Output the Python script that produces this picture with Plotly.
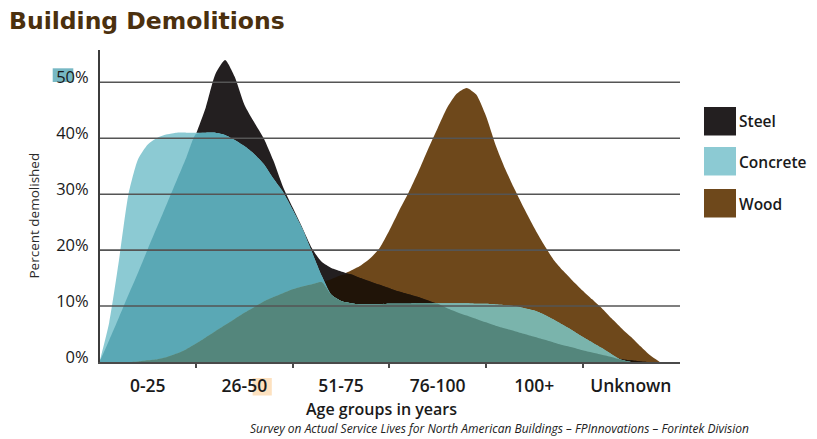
import numpy as np
import plotly.graph_objects as go

# ---------------- data ----------------
categories = ["0-25", "26-50", "51-75", "76-100", "100+", "Unknown"]
series_names = ["Steel", "Concrete", "Wood"]
y_ticks = [0, 10, 20, 30, 40, 50]

# positions along the age axis, in age-group units (0 = "0-25", 5 = "Unknown")
x_pos = [-0.5, -0.4, -0.3, -0.2, -0.1, 0.0, 0.1, 0.2, 0.3, 0.4,
         0.5, 0.6, 0.7, 0.8, 0.9, 1.0, 1.1, 1.2, 1.3, 1.4,
         1.5, 1.6, 1.7, 1.8, 1.9, 2.0, 2.1, 2.2, 2.3, 2.4,
         2.5, 2.6, 2.7, 2.8, 2.9, 3.0, 3.1, 3.2, 3.3, 3.4,
         3.5, 3.6, 3.7, 3.8, 3.9, 4.0, 4.1, 4.2, 4.3, 4.4,
         4.5, 4.6, 4.7, 4.8, 4.9, 5.0, 5.1, 5.2, 5.3]

steel = [0.0, 3.9, 7.9, 12.0, 16.0, 20.2, 24.3, 28.4, 32.5, 36.6,
         40.8, 45.5, 51.5, 54.0, 51.0, 46.0, 42.9, 40.0, 36.0, 31.3,
         27.6, 24.0, 20.3, 17.9, 16.8, 16.2, 15.7, 15.0, 14.4, 13.8,
         13.2, 12.6, 12.1, 11.6, 11.0, 10.4, 9.6, 8.9, 8.3, 7.7,
         7.1, 6.5, 6.0, 5.5, 5.0, 4.5, 4.0, 3.5, 3.0, 2.6,
         2.1, 1.7, 1.3, 0.9, 0.5, 0.3, 0.1, 0.0, 0.0]

concrete = [0.0, 7.0, 18.0, 30.0, 36.3, 38.9, 40.1, 40.7, 41.0, 41.0,
            41.0, 41.0, 41.0, 40.6, 39.7, 38.6, 37.2, 35.4, 32.8, 30.4,
            27.2, 23.8, 19.6, 15.4, 12.0, 10.9, 10.5, 10.3, 10.3, 10.3,
            10.4, 10.4, 10.4, 10.5, 10.5, 10.5, 10.5, 10.5, 10.5, 10.4,
            10.4, 10.3, 10.2, 10.0, 9.6, 9.2, 8.5, 7.6, 6.6, 5.6,
            4.5, 3.5, 2.5, 1.4, 0.4, 0.0, 0.0, 0.0, 0.0]

wood = [0.0, 0.0, 0.0, 0.0, 0.1, 0.3, 0.5, 0.9, 1.5, 2.3,
        3.3, 4.4, 5.5, 6.6, 7.7, 8.8, 9.8, 10.8, 11.6, 12.3,
        13.0, 13.5, 13.9, 14.3, 14.8, 15.5, 16.3, 17.2, 18.5, 20.4,
        23.5, 27.0, 30.3, 34.0, 38.0, 41.8, 45.5, 48.0, 49.0, 47.8,
        44.0, 38.8, 34.5, 30.8, 27.3, 24.0, 21.0, 18.3, 16.3, 14.5,
        12.8, 11.2, 9.6, 7.8, 6.1, 4.5, 2.8, 1.2, 0.0]

footnote = "Survey on Actual Service Lives for North American Buildings – FPInnovations – Forintek Division"

# ---------------- styling ----------------
C_STEEL = "#231f20"
C_CONCRETE = "#8ccad3"
C_WOOD = "#6e481b"
C_STEEL_WOOD = "#201408"
C_CONC_STEEL = "#5aa8b5"
C_CONC_WOOD = "#7ab4ac"
C_ALL = "#54867c"

s = np.array(steel)
c = np.array(concrete)
w = np.array(wood)

layers = [
    (w, C_WOOD),
    (s, C_STEEL),
    (np.minimum(s, w), C_STEEL_WOOD),
    (c, C_CONCRETE),
    (np.minimum(c, s), C_CONC_STEEL),
    (np.minimum(c, w), C_CONC_WOOD),
    (np.minimum(np.minimum(c, s), w), C_ALL),
]

fig = go.Figure()
for yy, col in layers:
    fig.add_trace(go.Scatter(
        x=x_pos, y=yy, mode="lines",
        line=dict(width=0, shape="spline", smoothing=0.6, color=col),
        fill="tozeroy", fillcolor=col,
        hoverinfo="skip", showlegend=False))

# page offset (browser body margin) and plot geometry in window pixels
OFF = 8
FIG_W, FIG_H = 817 - OFF, 439 - OFF
PLOT_L, PLOT_R, PLOT_T, PLOT_B = 100, 680, 50, 362   # window pixels
L = PLOT_L - OFF
T = PLOT_T - OFF
R = FIG_W - (PLOT_R - OFF)
B = FIG_H - (PLOT_B - OFF)
W = PLOT_R - PLOT_L
H = PLOT_B - PLOT_T

def px(xp):
    return (xp - PLOT_L) / W

def py(yp):
    return (PLOT_B - yp) / H

shapes = []
# horizontal grid lines above the areas
for v in y_ticks[1:]:
    shapes.append(dict(type="line", xref="paper", yref="y", x0=0, x1=1, y0=v, y1=v,
                       line=dict(color="#555555", width=1.6), layer="above"))

# legend swatches
legend_cols = [C_STEEL, C_CONCRETE, C_WOOD]
legend_top = [107, 147, 189]
annotations = []
for name, col, top in zip(series_names, legend_cols, legend_top):
    shapes.append(dict(type="rect", xref="paper", yref="paper",
                   x0=px(704), x1=px(736), y0=py(top + 28.5), y1=py(top),
                   fillcolor=col, line=dict(width=0), layer="above"))
    annotations.append(dict(text=name, xref="paper", yref="paper",
                            x=px(737), y=py(top + 14.5), xanchor="left", yanchor="middle",
                            showarrow=False,
                            font=dict(family="Open Sans", size=15.5, color="#1a1a1a", weight=600)))

# highlight boxes seen behind "50"
shapes.append(dict(type="rect", xref="paper", yref="paper",
                   x0=px(52.7), x1=px(73.3), y0=py(82), y1=py(68.3),
                   fillcolor="#77b8c4", line=dict(width=0), layer="below"))
shapes.append(dict(type="rect", xref="paper", yref="paper",
                   x0=px(252.6), x1=px(271.8), y0=py(395.5), y1=py(378),
                   fillcolor="#fde1bf", line=dict(width=0), layer="below"))

annotations += [
    dict(text="Building Demolitions", xref="paper", yref="paper",
         x=px(7), y=py(21), xanchor="left", yanchor="middle", showarrow=False,
         font=dict(family="DejaVu Sans", size=23.5, color="#4b300e", weight="bold")),
    dict(text="Percent demolished", xref="paper", yref="paper",
         x=px(33.5), y=py(216), xanchor="center", yanchor="middle", textangle=-90,
         showarrow=False, font=dict(family="Open Sans", size=13.5, color="#2a2a2a")),
    dict(text="Age groups in years", xref="paper", yref="paper",
         x=px(381), y=py(409), xanchor="center", yanchor="middle", showarrow=False,
         font=dict(family="Open Sans", size=16, color="#1a1a1a", weight=600)),
    dict(text="<i>" + footnote + "</i>", xref="paper", yref="paper",
         x=px(499), y=py(439), xanchor="center", yanchor="bottom", showarrow=False,
         font=dict(family="Open Sans", size=12, color="#222222")),
]

x0 = (PLOT_L - 147.8) / 96.6
x1 = (PLOT_R - 147.8) / 96.6
fig.update_layout(
    width=FIG_W, height=FIG_H,
    margin=dict(l=L, r=R, t=T, b=B, pad=0),
    paper_bgcolor="white", plot_bgcolor="white",
    showlegend=False,
    shapes=shapes, annotations=annotations,
    xaxis=dict(range=[x0, x1], tickvals=list(range(len(categories))), ticktext=categories,
               showgrid=False, zeroline=False, ticks="", ticklabelstandoff=7,
               showline=True, linecolor="#4a4a4a", linewidth=2, layer="above traces",
               tickfont=dict(family="Open Sans", size=17.5, color="#1a1a1a", weight=600),
               minor=dict(tickvals=[-0.5, 0.5, 1.5, 2.5, 3.5, 4.5], ticks="outside",
                          ticklen=4, tickcolor="#4a4a4a", tickwidth=1.5, showgrid=False),
               fixedrange=True),
    yaxis=dict(range=[0, H / 5.594], tickvals=y_ticks,
               ticktext=[f"{v}%" for v in y_ticks],
               showgrid=False, zeroline=False, ticks="", ticklabelstandoff=6,
               ticklabelshift=-5,
               showline=True, linecolor="#3c3c3c", linewidth=2, layer="above traces",
               tickfont=dict(family="Open Sans", size=16.5, color="#1a1a1a"),
               fixedrange=True),
)

fig.write_html("out.html")
